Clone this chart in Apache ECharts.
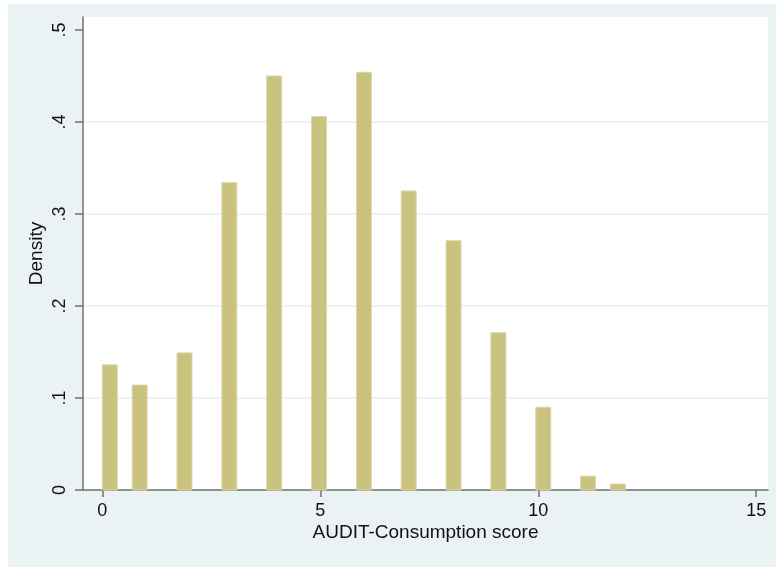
<!DOCTYPE html>
<html>
<head>
<meta charset="utf-8">
<title>AUDIT-Consumption score histogram</title>
<script src="https://cdn.jsdelivr.net/npm/echarts@6/dist/echarts.min.js"></script>
<style>
    html, body {
        margin: 0;
        padding: 0;
        background: #ffffff;
    }
    #chart {
        position: absolute;
        left: 8px;
        top: 4px;
        width: 768px;
        height: 563px;
    }
</style>
</head>
<body>
<div id="chart"></div>
<script>
// AUDIT-Consumption scores (discrete 0..12) and their histogram densities
const scores = [0, 1, 2, 3, 4, 5, 6, 7, 8, 9, 10, 11, 12];
const densities = [0.136, 0.114, 0.149, 0.334, 0.450, 0.406, 0.454, 0.325, 0.271, 0.171, 0.090, 0.015, 0.0065];

// histogram bins as Stata drew them
const binCount = 35;
const scoreMin = 0;
const scoreMax = 12;

const xTicks = [0, 5, 10, 15];
const yTicks = [0, 0.1, 0.2, 0.3, 0.4, 0.5];

const FONT = "'Liberation Sans', Arial, sans-serif";

function binOf(score) {
    const k = Math.floor((score - scoreMin) * binCount / (scoreMax - scoreMin));
    return Math.min(k, binCount - 1);
}

const binWidth = (scoreMax - scoreMin) / binCount;
const histData = scores.map((score, i) => {
    const left = scoreMin + binOf(score) * binWidth;
    return [left, left + binWidth, densities[i]];
});

function formatDensity(value) {
    if (value === 0) return "0";
    return value.toFixed(1).replace(/^0/, "");
}

const chart = echarts.init(document.getElementById("chart"));

chart.setOption({
    backgroundColor: "#eaf2f3",
    animation: false,
    grid: {
        left: 75,
        right: 8,
        top: 13,
        bottom: 77,
        show: true,
        backgroundColor: "#ffffff",
        borderWidth: 0
    },
    xAxis: {
        type: "value",
        min: -0.443,
        max: 15.27,
        name: "AUDIT-Consumption score",
        nameLocation: "middle",
        nameGap: 33,
        nameMoveOverlap: false,
        nameTextStyle: {
            color: "#111111",
            fontFamily: FONT,
            fontSize: 19
        },
        axisLine: {
            onZero: false,
            lineStyle: {
                color: "#6f7173",
                width: 1.5
            }
        },
        axisTick: {
            show: true,
            length: 7,
            customValues: xTicks,
            lineStyle: {
                color: "#6f7173",
                width: 1.5
            }
        },
        axisLabel: {
            margin: 12,
            color: "#111111",
            fontFamily: FONT,
            fontSize: 18,
            customValues: xTicks
        },
        splitLine: {
            show: false
        }
    },
    yAxis: {
        type: "value",
        min: 0,
        max: 0.5141,
        interval: 0.1,
        name: "Density",
        nameLocation: "middle",
        nameGap: 37,
        nameMoveOverlap: false,
        nameTextStyle: {
            color: "#111111",
            fontFamily: FONT,
            fontSize: 19
        },
        axisLine: {
            show: true,
            onZero: false,
            lineStyle: {
                color: "#6f7173",
                width: 1.5
            }
        },
        axisTick: {
            show: true,
            length: 8,
            customValues: yTicks,
            lineStyle: {
                color: "#6f7173",
                width: 1.5
            }
        },
        axisLabel: {
            rotate: 90,
            margin: 14,
            color: "#111111",
            fontFamily: FONT,
            fontSize: 18,
            customValues: yTicks,
            formatter: formatDensity
        },
        splitLine: {
            show: true,
            showMaxLine: false,
            lineStyle: {
                color: "#e6eff1",
                width: 1.5
            }
        }
    },
    series: [{
        name: "Density",
        type: "custom",
        encode: {
            x: [0, 1],
            y: 2
        },
        data: histData,
        renderItem(params, api) {
            const topLeft = api.coord([api.value(0), api.value(2)]);
            const bottomRight = api.coord([api.value(1), 0]);
            return {
                type: "rect",
                shape: {
                    x: topLeft[0],
                    y: topLeft[1],
                    width: bottomRight[0] - topLeft[0],
                    height: bottomRight[1] - topLeft[1]
                },
                style: {
                    fill: "#cac27f",
                    stroke: "#dcd7a4",
                    lineWidth: 1
                }
            };
        }
    }]
});

window.addEventListener("resize", () => chart.resize());
</script>
</body>
</html>
